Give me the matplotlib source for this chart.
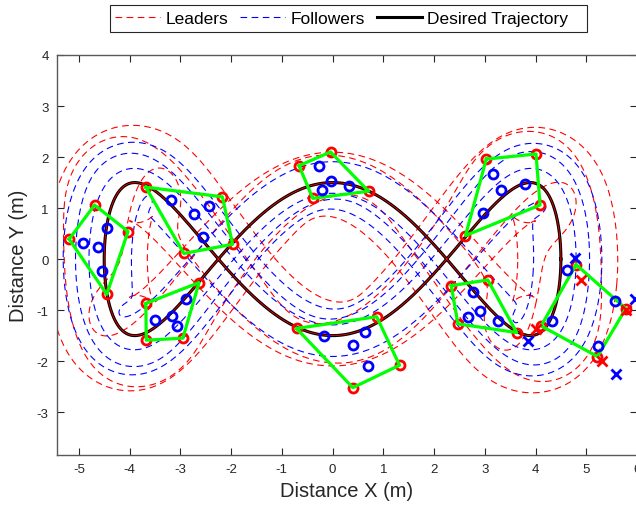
import numpy as np
import matplotlib.pyplot as plt
from matplotlib.patches import Rectangle

plt.rcParams['font.family'] = ['Liberation Sans', 'DejaVu Sans']
plt.rcParams['axes.unicode_minus'] = False

# desired trajectory: x = TRAJ_AX*cos(t), y = TRAJ_AY*sin(TRAJ_KY*t)
TRAJ_AX = 4.5
TRAJ_AY = 1.5
TRAJ_KY = 3

# body-frame offsets (forward, left) of every agent from the reference point
LEADER_FWD = [0.90, 0.00, -0.90, -0.50]
LEADER_LAT = [-0.70, 0.85, 0.50, -1.10]
FOLLOWER_FWD = [-0.30, 0.00, 0.40, -0.30]
FOLLOWER_LAT = [0.55, -0.30, -0.55, -0.80]
# formation shrinks laterally in the middle lobe
LAT_SCALE_MID = 0.7

# formation snapshots, leaders listed in polygon order
LEADERS_X = [
    [-5.19, -4.69, -4.03, -4.45],
    [-3.68, -2.17, -1.97, -2.93],
    [-3.68, -2.63, -2.95, -3.67],
    [-0.66, -0.04, 0.71, -0.39],
    [-0.71, 0.87, 1.32, 0.40],
    [3.03, 4.01, 4.09, 2.62],
    [2.34, 3.06, 3.63, 2.47],
    [4.80, 5.78, 5.22, 4.11],
]
LEADERS_Y = [
    [0.39, 1.06, 0.54, -0.69],
    [1.41, 1.22, 0.29, 0.11],
    [-0.87, -0.46, -1.55, -1.59],
    [1.83, 2.10, 1.33, 1.19],
    [-1.36, -1.13, -2.08, -2.52],
    [1.96, 2.06, 1.06, 0.46],
    [-0.52, -0.41, -1.44, -1.27],
    [-0.11, -0.97, -1.91, -1.31],
]
FOLLOWERS_X = [
    [-4.92, -4.62, -4.45, -4.55],
    [-3.19, -2.73, -2.43, -2.55],
    [-3.50, -3.16, -2.89, -3.06],
    [-0.26, -0.04, 0.33, -0.21],
    [-0.16, 0.63, 0.40, 0.69],
    [3.16, 3.32, 3.80, 2.96],
    [2.76, 2.66, 2.91, 3.27],
    [4.62, 5.57, 5.24, 4.32],
]
FOLLOWERS_Y = [
    [0.31, 0.23, 0.60, -0.23],
    [1.16, 0.88, 1.05, 0.43],
    [-1.20, -1.11, -0.78, -1.31],
    [1.82, 1.54, 1.44, 1.36],
    [-1.50, -1.42, -1.68, -2.09],
    [1.67, 1.35, 1.48, 0.90],
    [-0.64, -1.14, -1.01, -1.21],
    [-0.21, -0.82, -1.70, -1.21],
]

# final goal markers
LEADER_GOAL_X = [4.89, 5.78, 5.32, 4.01]
LEADER_GOAL_Y = [-0.41, -0.99, -1.99, -1.37]
FOLLOWER_GOAL_X = [4.78, 5.97, 5.58, 3.86]
FOLLOWER_GOAL_Y = [0.03, -0.78, -2.25, -1.60]


def agent_path(fwd, lat, t):
    x = TRAJ_AX * np.cos(t)
    y = TRAJ_AY * np.sin(TRAJ_KY * t)
    dx = -TRAJ_AX * np.sin(t)
    dy = TRAJ_KY * TRAJ_AY * np.cos(TRAJ_KY * t)
    n = np.hypot(dx, dy)
    fx, fy = dx / n, dy / n
    lat = lat * (LAT_SCALE_MID + (1 - LAT_SCALE_MID) * np.cos(t) ** 2)
    return x + fwd * fx - lat * fy, y + fwd * fy + lat * fx


fig = plt.figure(figsize=(6.36, 5.06), dpi=100)
ax = fig.add_axes([57 / 636, 50 / 506, 580 / 636, 400 / 506])

t = np.linspace(0, 2 * np.pi, 1500)
dash = (0, (6, 4))

for f, l in zip(LEADER_FWD, LEADER_LAT):
    px, py = agent_path(f, l, t)
    h_lead, = ax.plot(px, py, color='red', lw=0.8, ls=dash, zorder=1)
for f, l in zip(FOLLOWER_FWD, FOLLOWER_LAT):
    px, py = agent_path(f, l, t)
    h_foll, = ax.plot(px, py, color='blue', lw=0.8, ls=dash, zorder=1)

tx, ty = agent_path(0.0, 0.0, t)
h_traj, = ax.plot(tx, ty, color='black', lw=2.2, zorder=2)
ax.plot(tx, ty, color='red', lw=0.6, zorder=2.1)

for lx, ly, fx, fy in zip(LEADERS_X, LEADERS_Y, FOLLOWERS_X, FOLLOWERS_Y):
    ax.plot(lx, ly, 'o', color='red', mfc='none', ms=6.5, mew=2, zorder=3)
    ax.plot(lx + lx[:1], ly + ly[:1], color='#00ff00', lw=2.3, zorder=4)
    ax.plot(fx, fy, 'o', color='blue', mfc='none', ms=6.5, mew=2, zorder=5)

ax.plot(LEADER_GOAL_X, LEADER_GOAL_Y, 'x', color='red', ms=7, mew=2, zorder=5)
ax.plot(FOLLOWER_GOAL_X, FOLLOWER_GOAL_Y, 'x', color='blue', ms=7, mew=2, zorder=5)

ax.set_xlim(-5.43, 6.0)
ax.set_ylim(-3.84, 4.0)
ax.set_xticks(range(-5, 7))
ax.set_yticks(range(-3, 5))
ax.tick_params(direction='in', top=True, right=True, length=5, width=0.8,
               labelsize=9.5, colors='#262626', pad=6)
for s in ax.spines.values():
    s.set_color('#595959')
    s.set_linewidth(1.0)

ax.set_xlabel('Distance X (m)', fontsize=14.5, color='#262626', labelpad=4)
ax.set_ylabel('Distance Y (m)', fontsize=14.5, color='#262626', labelpad=6)

# horizontal legend above the axes, with a plain box around it
ax.legend([h_lead, h_foll, h_traj], ['Leaders', 'Followers', 'Desired Trajectory'],
          loc='center left', bbox_to_anchor=(115 / 636, 1 - 19.5 / 506),
          bbox_transform=fig.transFigure, ncol=3, fontsize=12.5,
          handlelength=2.6, handletextpad=0.3, columnspacing=0.7,
          borderpad=0, frameon=False, borderaxespad=0)
fig.patches.append(Rectangle((110 / 636, 1 - 33 / 506), 477 / 636, 27 / 506,
                             transform=fig.transFigure, fill=False,
                             edgecolor='#262626', lw=0.8))

fig.savefig('out.png', dpi=100)
